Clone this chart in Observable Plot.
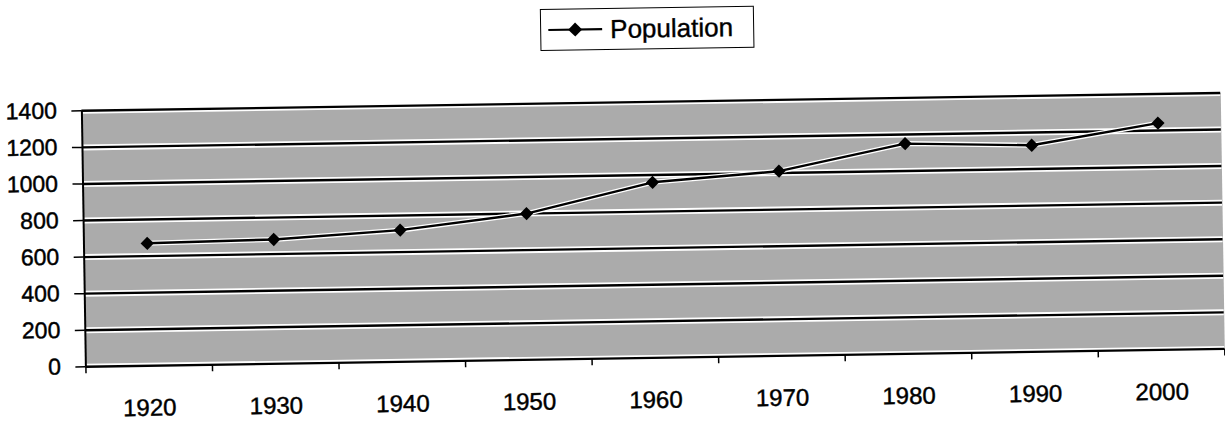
<!DOCTYPE html>
<html>
<head>
<meta charset="utf-8">
<script src="https://cdn.jsdelivr.net/npm/d3@7"></script>
<script src="https://cdn.jsdelivr.net/npm/@observablehq/plot@0.6"></script>
<style>
  html, body { margin: 0; padding: 0; background: #fff; width: 1225px; height: 421px; overflow: hidden; }
  #page { position: relative; width: 1225px; height: 421px; transform: rotate(-0.9deg); transform-origin: 612px 210px;
          font-family: "Liberation Sans", Arial, sans-serif; color: #000; }
  #legend { position: absolute; left: 543px; top: 8px; width: 214px; height: 42px; box-sizing: border-box;
            border: 1.6px solid #000; background: #fff; display: flex; align-items: center; }
  #legend svg { margin-left: 7px; }
  #legend span { font-size: 26px; margin-left: 6px; line-height: 1; -webkit-text-stroke: 0.4px #000; }
  #chart { position: absolute; left: 0; top: 60px; }
  #chart text { stroke: #000; stroke-width: 0.45px; }
</style>
</head>
<body>
<div id="page">
  <div id="legend"></div>
  <div id="chart"></div>
</div>
<script>
// ---- data ----
const seriesName = "Population";
const years = [1920, 1930, 1940, 1950, 1960, 1970, 1980, 1990, 2000];
const population = [670, 680, 720, 800, 960, 1010, 1150, 1130, 1240];
const yTicks = [0, 200, 400, 600, 800, 1000, 1200, 1400];
const xTickLabels = [1920, 1930, 1940, 1950, 1960, 1970, 1980, 1990, 2000];
const categoryEdges = [1915, 1925, 1935, 1945, 1955, 1965, 1975, 1985, 1995, 2005];

const data = years.map((year, i) => ({year, value: population[i]}));
const font = "'Liberation Sans', Arial, sans-serif";

// ---- legend ----
const legend = document.getElementById("legend");
const sw = d3.create("svg").attr("width", 56).attr("height", 20);
sw.append("line").attr("x1", 0).attr("x2", 54).attr("y1", 10).attr("y2", 10).attr("stroke", "#000").attr("stroke-width", 2.2);
sw.append("path").attr("d", "M27,3L34,10L27,17L20,10Z").attr("fill", "#000");
legend.appendChild(sw.node());
const lab = document.createElement("span");
lab.textContent = seriesName;
legend.appendChild(lab);

// ---- chart ----
const chart = Plot.plot({
  width: 1225,
  height: 361,
  marginTop: 42,
  marginBottom: 63,
  marginLeft: 83,
  marginRight: 3,
  style: {fontFamily: font, background: "transparent", color: "#000"},
  x: {type: "linear", domain: [1915, 2005]},
  y: {domain: [0, 1400]},
  marks: [
    Plot.frame({fill: "#ababab", stroke: "none"}),
    Plot.ruleY(yTicks, {stroke: "#fff", strokeWidth: 6}),
    Plot.ruleY(yTicks, {stroke: "#000", strokeWidth: 2.4}),
    Plot.ruleX([1915], {stroke: "#000", strokeWidth: 2}),
    Plot.line(data, {x: "year", y: "value", stroke: "#fff", strokeWidth: 5}),
    Plot.line(data, {x: "year", y: "value", stroke: "#000", strokeWidth: 2.4}),
    Plot.dot(data, {x: "year", y: "value", symbol: "diamond2", r: 6, fill: "#000", stroke: "none"}),
    Plot.axisY({ticks: yTicks, tickSize: 10, tickPadding: 15, fontSize: 23, label: null, tickFormat: d => String(d), strokeWidth: 1.5}),
    Plot.axisX({ticks: categoryEdges, tickSize: 7, tickFormat: () => "", label: null, strokeWidth: 1.5}),
    Plot.axisX({ticks: xTickLabels, tickSize: 0, tickPadding: 33, fontSize: 24, label: null, tickFormat: d => String(d)})
  ]
});
document.getElementById("chart").appendChild(chart);
</script>
</body>
</html>
